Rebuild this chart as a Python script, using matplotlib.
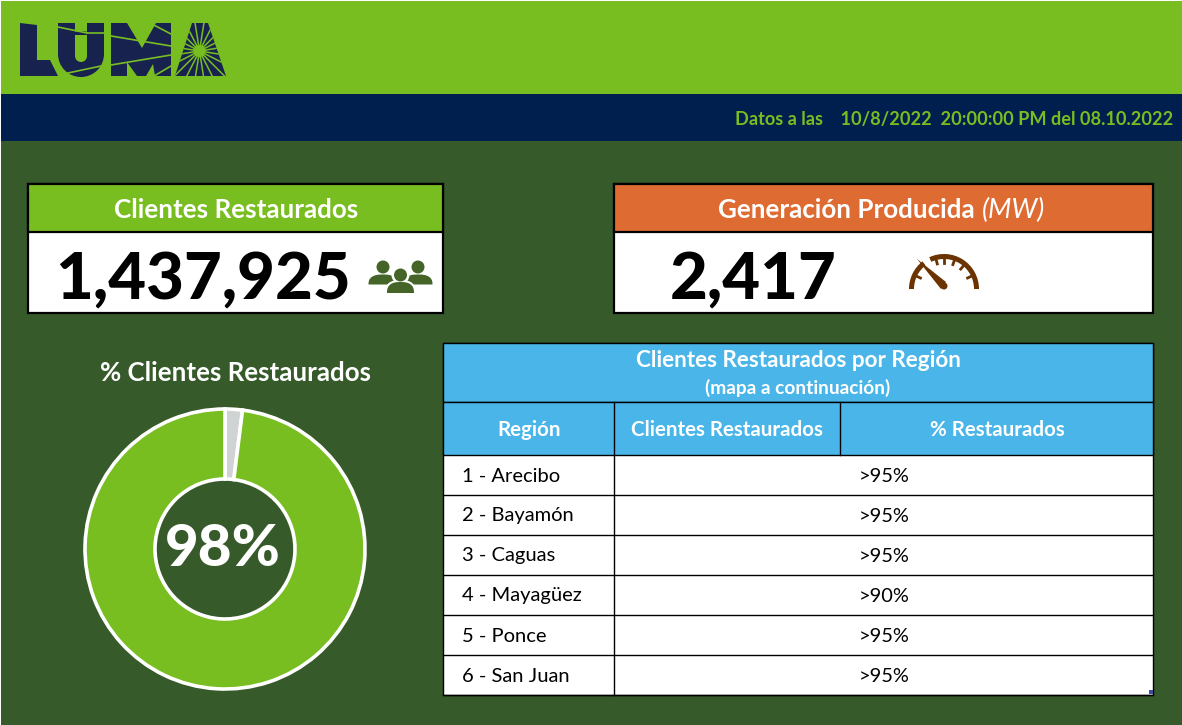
import numpy as np
import matplotlib
matplotlib.use("Agg")
import matplotlib.pyplot as plt
from matplotlib.patches import Rectangle, Polygon, Circle, Wedge, Ellipse

LIME = "#78BE20"; NAVY = "#001F4F"; DARK = "#375A2B"; ORANGE = "#DE6B32"
BLUE = "#4AB5E8"; LOGO = "#18224F"; GRAY = "#D0D3D4"; BROWN = "#6B3300"; ICON = "#456528"

share_values = [2, 98]
share_label = "98%"
regions = ["1 - Arecibo", "2 - Bayamón", "3 - Caguas", "4 - Mayagüez", "5 - Ponce", "6 - San Juan"]
region_pct = [">95%", ">95%", ">95%", ">90%", ">95%", ">95%"]
clients_restored = "1,437,925"
generation = "2,417"

plt.rcParams["font.family"] = ["Lato", "DejaVu Sans"]
fig = plt.figure(figsize=(11.82, 7.25), dpi=100, facecolor=DARK)
ax = fig.add_axes([0, 0, 1, 1])
ax.set_xlim(0, 1182); ax.set_ylim(725, 0); ax.axis("off")

def rect(x0, y0, x1, y1, fc, ec="none", lw=0, z=1):
    ax.add_patch(Rectangle((x0, y0), x1 - x0, y1 - y0, fc=fc, ec=ec, lw=lw, zorder=z))

def txt(x, y, s, size, color="white", weight="bold", ha="center", **kw):
    return ax.text(x, y, s, fontsize=size, color=color, fontweight=weight, ha=ha, va="center", zorder=5, **kw)

def dome(cx, ybot, w, h, fc, z, p=2.6):
    t = np.linspace(0, np.pi, 60)
    c, s = np.cos(t), np.sin(t)
    xs = cx + w / 2 * np.sign(c) * np.abs(c) ** (2 / p)
    ys = ybot - h * np.abs(s) ** (2 / p)
    ax.add_patch(Polygon(np.column_stack([xs, ys]), fc=fc, ec="none", zorder=z))

# header bands
rect(1, 1, 1182, 94, LIME)
rect(1, 94, 1182, 141, NAVY)
rect(0, 0, 1182, 1, "white", z=2)
rect(0, 0, 1, 725, "white", z=2)
txt(1173, 119, "Datos a las    10/8/2022  20:00:00 PM del 08.10.2022", 13.1, LIME, ha="right")

# logo: L, U, M, A silhouettes with thin cut lines
ax.add_patch(Polygon([(20, 23), (37, 25), (37, 60), (50, 60), (58, 76), (20, 76)], fc=LOGO, ec="none", zorder=2))
ax.add_patch(Polygon([(58, 23), (75, 23), (75, 56), (87, 56), (87, 23), (104, 23), (104, 54), (58, 54)], fc=LOGO, ec="none", zorder=2))
ax.add_patch(Ellipse((81, 54), 46, 46, fc=LOGO, ec="none", zorder=2))
ax.add_patch(Rectangle((75, 35), 12, 21, fc=LIME, ec="none", zorder=3))
ax.add_patch(Circle((81, 56), 6, fc=LIME, ec="none", zorder=3))
ax.add_patch(Polygon([(111, 23), (127, 23), (142, 48), (156, 23), (171, 23), (171, 76), (155, 76), (153, 64),
                      (146, 76), (137, 76), (127, 62), (127, 76), (111, 76)], fc=LOGO, ec="none", zorder=2))
a_shape = Polygon([(192, 23), (208, 23), (226, 76), (175, 76)], fc=LOGO, ec="none", zorder=2)
ax.add_patch(a_shape)
for (a, b) in [((58, 27), (87, 33)), ((87, 33), (104, 33)), ((111, 36), (171, 46)), ((150, 23), (171, 34)),
               ((111, 65), (171, 55)), ((68, 73), (101, 66)), ((154, 76), (171, 66))]:
    ax.plot(*zip(a, b), color=LIME, lw=1.2, zorder=4)
sun = (199.5, 51)
for ang in np.arange(0, 360, 18) + 9:
    r = np.radians(ang)
    line, = ax.plot([sun[0], sun[0] + 45 * np.cos(r)], [sun[1], sun[1] + 45 * np.sin(r)], color=LIME, lw=1.1, zorder=3)
    line.set_clip_path(a_shape)
ax.add_patch(Circle(sun, 6, fc=LIME, ec="none", zorder=4))

# KPI boxes
rect(28, 184, 443, 313, "white", "black", 1.6)
rect(28, 184, 443, 232, LIME, "black", 1.6, z=2)
txt(236, 210, "Clientes Restaurados", 18.7)
txt(203, 281, clients_restored, 47, "black", weight=900)
rect(614, 184, 1153, 313, "white", "black", 1.6)
rect(614, 184, 1153, 232, ORANGE, "black", 1.6, z=2)
txt(975, 210, "Generación Producida", 18.7, ha="right")
txt(982, 210, "(MW)", 19.5, weight="normal", ha="left", style="italic")
txt(753, 281, generation, 47, "black", weight=900)

# people icon
for cx in (383, 418):
    ax.add_patch(Circle((cx, 267), 6.5, fc=ICON, ec="none", zorder=3))
    dome(cx, 284.5, 29, 10, ICON, 3)
ax.add_patch(Circle((400.5, 275), 9, fc="white", ec="none", zorder=3.1))
dome(400.5, 295, 32, 15, "white", 3.1)
ax.add_patch(Circle((400.5, 275), 6.5, fc=ICON, ec="none", zorder=3.2))
dome(400.5, 293, 27, 11, ICON, 3.2)

# gauge icon
gc = (944, 289)
ax.add_patch(Wedge(gc, 35, 180, 232, width=5, fc=BROWN, ec="none", zorder=3))
ax.add_patch(Wedge(gc, 35, 245, 360, width=5, fc=BROWN, ec="none", zorder=3))
for ang in [205, 255, 270, 290, 310, 335]:
    r = np.radians(ang)
    ax.plot([gc[0] + 31 * np.cos(r), gc[0] + 26 * np.cos(r)], [gc[1] + 31 * np.sin(r), gc[1] + 26 * np.sin(r)], color=BROWN, lw=2, zorder=3)
ax.add_patch(Polygon([(917, 259), (946, 282), (941, 289)], fc=BROWN, ec="none", zorder=3))
ax.add_patch(Circle((944, 286), 3.5, fc=BROWN, ec="none", zorder=3))

# donut
txt(236, 373, "% Clientes Restaurados", 18.6)
pie_size = 280
pie_ax = fig.add_axes([(225 - pie_size / 2) / 1182, 1 - (549 + pie_size / 2) / 725, pie_size / 1182, pie_size / 725])
pie_ax.pie(share_values, colors=[GRAY, LIME], startangle=90, counterclock=False, radius=1.0,
           wedgeprops=dict(width=0.5, edgecolor="white", linewidth=2.6))
pie_ax.set_xlim(-1, 1); pie_ax.set_ylim(-1, 1)
pie_ax.patch.set_alpha(0)
pie_ax.text(-0.015, 0.0, share_label, fontsize=42, color="white", fontweight=900, ha="center", va="center")

# table
T0, T1 = 443, 1153
rect(T0, 343, T1, 695, "white", "black", 1)
rect(T0, 343, T1, 402, BLUE, "black", 1, z=2)
rect(T0, 402, T1, 455, BLUE, "black", 1, z=2)
ax.plot([614, 614], [402, 695], color="black", lw=1, zorder=3)
ax.plot([840, 840], [402, 455], color="black", lw=1, zorder=3)
txt(798, 360.5, "Clientes Restaurados por Región", 16.2)
txt(798, 388, "(mapa a continuación)", 13.8)
txt(529, 429.5, "Región", 14.8)
txt(727, 429.5, "Clientes Restaurados", 14.8)
txt(997, 429.5, "% Restaurados", 14.8)
row_y = 455
for name, pct in zip(regions, region_pct):
    ax.plot([T0, T1], [row_y + 40, row_y + 40], color="black", lw=1, zorder=3)
    txt(462, row_y + 21, name, 14.5, "black", "normal", ha="left")
    txt(884, row_y + 21, pct, 14.4, "black", "normal")
    row_y += 40
rect(1149, 690, 1153, 694, "#3A4FA0", z=4)

fig.savefig("out.png", dpi=100, facecolor=DARK)
